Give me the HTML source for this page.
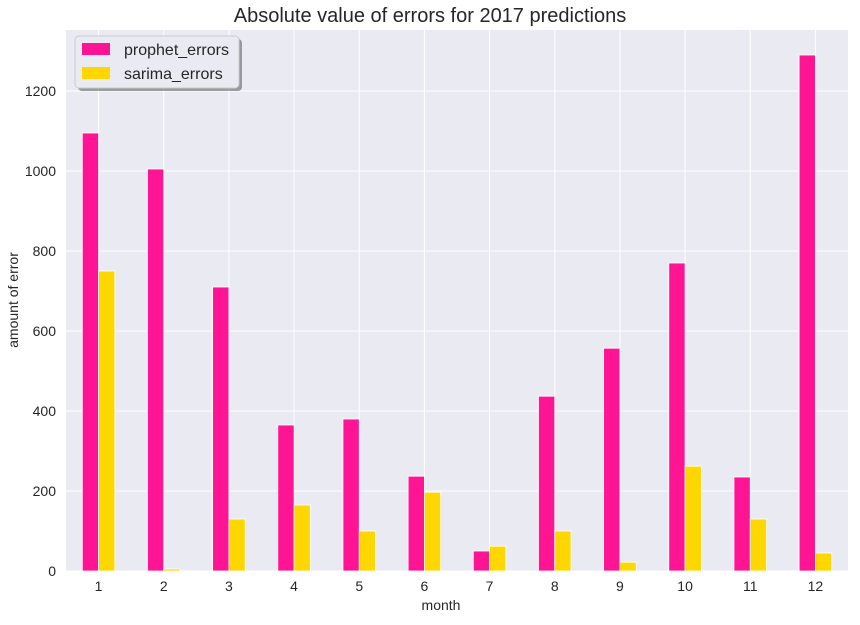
<!DOCTYPE html>
<html><head><meta charset="utf-8"><style>
body{margin:0;background:#fff;width:860px;height:620px;overflow:hidden}
text{font-family:"Liberation Sans",sans-serif}
</style></head><body>
<svg id="chart" width="860" height="620">
<rect x="66" y="30" width="782" height="541" fill="#eaeaf2"/>
<g id="grid"></g><g id="bars"></g><g id="ticks"></g>
<text x="430" y="22" text-anchor="middle" font-size="20" fill="#262626">Absolute value of errors for 2017 predictions</text>
<text x="441" y="610" text-anchor="middle" font-size="14" fill="#262626">month</text>
<text transform="translate(18,300) rotate(-90)" text-anchor="middle" font-size="14" fill="#262626">amount of error</text>
<g>
<rect x="76" y="37" width="164" height="52" rx="4" fill="#000" opacity="0.35" transform="translate(2,2)"/>
<rect x="75" y="36" width="164" height="52" rx="4" fill="#eaeaf2" stroke="#ccc"/>
<rect x="82" y="43" width="28" height="12" fill="#ff1493"/>
<text x="124" y="55" font-size="16" fill="#262626">prophet_errors</text>
<rect x="82" y="67" width="28" height="12" fill="#ffd700"/>
<text x="124" y="79" font-size="16" fill="#262626">sarima_errors</text>
</g>
</svg>
<script>
const months=[1,2,3,4,5,6,7,8,9,10,11,12];
const prophet=[1095,1005,710,365,380,237,50,437,557,770,235,1290];
const sarima=[750,5,130,165,100,197,62,100,22,262,130,45];
const yTicks=[0,200,400,600,800,1000,1200];
const L=66,R=848,T=30,B=571,yMax=1352.5;
const step=(R-L)/months.length;
const x=i=>L+step*(i+0.5);
const y=v=>B-(v/yMax)*(B-T);
const NS='http://www.w3.org/2000/svg';
function mk(g,tag,a){const e=document.createElementNS(NS,tag);for(const k in a)e.setAttribute(k,a[k]);document.getElementById(g).appendChild(e);return e;}
yTicks.forEach(t=>{
 const l=mk('grid','line',{x1:L,x2:R,y1:y(t),y2:y(t),stroke:'#fff','stroke-width':1});
 
 
 const tx=mk('ticks','text',{x:L-10,y:y(t)+5,'text-anchor':'end','font-size':14,fill:'#262626'});
 tx.textContent=t;
 
 
});
const bw=step*0.25;
months.forEach((m,i)=>{
 const l=mk('grid','line',{x1:x(i),x2:x(i),y1:T,y2:B,stroke:'#fff','stroke-width':1});
 
 
 const p=mk('bars','rect',{x:x(i)-bw,y:y(prophet[i]),width:bw,height:B-y(prophet[i]),fill:'#ff1493',stroke:'#fff','stroke-width':0.8});
 
 
 const s=mk('bars','rect',{x:x(i),y:y(sarima[i]),width:bw,height:B-y(sarima[i]),fill:'#ffd700',stroke:'#fff','stroke-width':0.8});
 
 
 const tx=mk('ticks','text',{x:x(i),y:B+20,'text-anchor':'middle','font-size':14,fill:'#262626'});
 tx.textContent=m;
 
 
});
</script>
</body></html>
